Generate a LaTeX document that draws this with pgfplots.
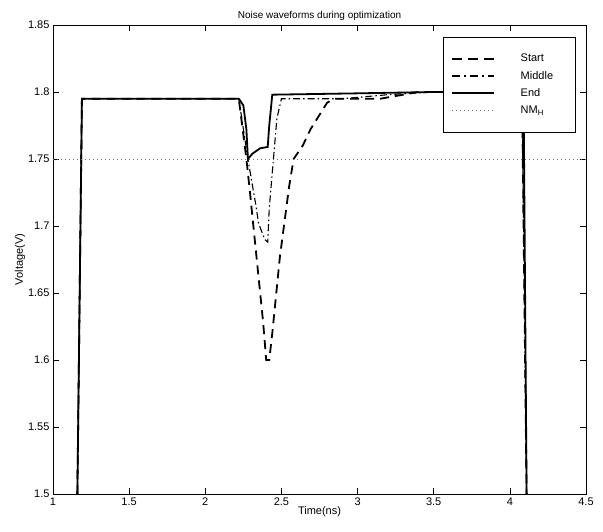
\documentclass[border=0pt]{standalone}
\usepackage{fontspec}
\setmainfont{Liberation Sans}
\usepackage{pgfplots}
\pgfplotsset{compat=1.18}

\begin{document}
\begin{tikzpicture}
\begin{axis}[
    scale only axis,
    width=533pt,
    height=469pt,
    xmin=1, xmax=4.5,
    ymin=1.5, ymax=1.85,
    xtick={1,1.5,2,2.5,3,3.5,4,4.5},
    ytick={1.5,1.55,1.6,1.65,1.7,1.75,1.8,1.85},
    yticklabels={1.5,1.55,1.6,1.65,1.7,1.75,1.8,1.85},
    xticklabels={1,1.5,2,2.5,3,3.5,4,4.5},
    tick align=inside,
    major tick length=6pt,
    tick style={black, line width=0.6pt},
    axis line style={line width=0.8pt},
    ticklabel style={font=\fontsize{11}{13}\selectfont},
    /pgf/number format/assume math mode=true,
    title={Noise waveforms during optimization},
    title style={font=\fontsize{10}{12}\selectfont, yshift=-5pt},
    xlabel={Time(ns)},
    ylabel={Voltage(V)},
    xlabel style={font=\fontsize{11}{13}\selectfont, yshift=6pt},
    ylabel style={font=\fontsize{11}{13}\selectfont, yshift=-4pt},
    legend style={at={(rel axis cs:0.98,0.975)}, anchor=north east,
        draw=black, font=\fontsize{11}{13}\selectfont,
        inner xsep=8pt, inner ysep=15pt, row sep=4pt, column sep=24pt},
    legend cell align=left,
    legend image code/.code={\draw[#1] (0pt,0pt) -- (42pt,0pt);},
]
\addlegendimage{black, line width=2pt, dash pattern=on 10pt off 6pt}
\addlegendentry{Start}
\addlegendimage{black, line width=1.4pt, dash pattern=on 8pt off 4pt on 2pt off 4pt}
\addlegendentry{Middle\rule{12pt}{0pt}}
\addlegendimage{black, line width=1.8pt}
\addlegendentry{End}
\addlegendimage{black!55, line width=1pt, dash pattern=on 1pt off 3pt}
\addlegendentry{NM\textsubscript{H}}

\addplot[forget plot, black, line width=1.8pt, dash pattern=on 9pt off 6pt] coordinates {
    (1.16,1.5) (1.19,1.795) (2.22,1.795) (2.27,1.75) (2.29,1.729) (2.33,1.684)
    (2.38,1.628) (2.40,1.60) (2.42,1.60) (2.44,1.62) (2.49,1.677) (2.55,1.729)
    (2.58,1.75) (2.64,1.76) (2.69,1.772) (2.80,1.792) (2.85,1.795)
    (3.15,1.795) (3.4,1.8) (4.08,1.8) (4.11,1.5)
};
\addplot[forget plot, black, line width=1.1pt, dash pattern=on 7pt off 3pt on 1.5pt off 3pt] coordinates {
    (1.16,1.5) (1.19,1.795) (2.22,1.795) (2.28,1.75) (2.31,1.73) (2.33,1.717)
    (2.35,1.702) (2.39,1.69) (2.41,1.688) (2.42,1.713) (2.44,1.74) (2.47,1.78)
    (2.50,1.795) (2.9,1.795) (3.2,1.798) (3.5,1.8) (4.08,1.8) (4.11,1.5)
};
\addplot[forget plot, black, line width=1.8pt] coordinates {
    (1.16,1.5) (1.19,1.795) (2.22,1.795) (2.25,1.79) (2.27,1.772) (2.28,1.75)
    (2.31,1.754) (2.36,1.758) (2.41,1.759) (2.42,1.775) (2.44,1.798)
    (3,1.799) (3.5,1.8) (4.09,1.8) (4.11,1.5)
};
\addplot[forget plot, black!55, line width=1pt, dash pattern=on 1pt off 3pt] coordinates {
    (1,1.75) (4.5,1.75)
};
\end{axis}
\path (-53pt,-37pt) rectangle (550pt,494pt);
\end{tikzpicture}
\end{document}
